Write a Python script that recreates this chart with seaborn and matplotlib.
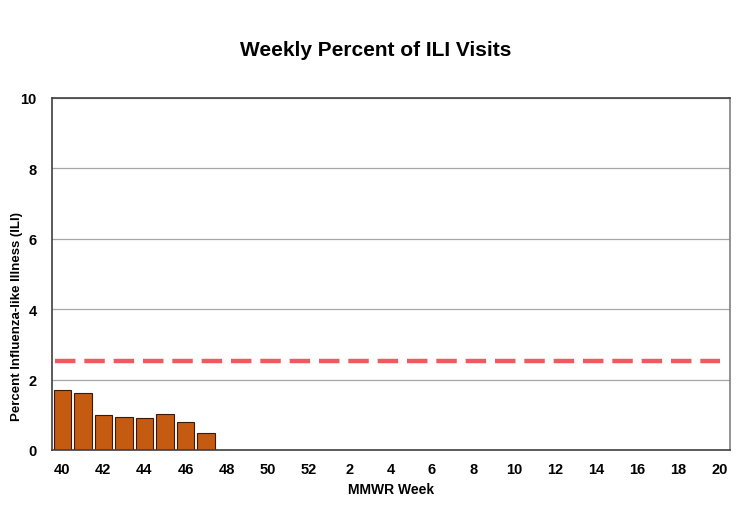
import numpy as np
import pandas as pd
import matplotlib
matplotlib.use('Agg')
import matplotlib.pyplot as plt
import seaborn as sns

# MMWR weeks for the season, 40 through 20
weeks = [str(w) for w in list(range(40, 53)) + list(range(1, 21))]
reported_weeks = ['40', '41', '42', '43', '44', '45', '46', '47']
ili_percent = [1.70, 1.61, 0.99, 0.93, 0.90, 1.02, 0.80, 0.49]
baseline = 2.52
y_ticks = [0, 2, 4, 6, 8, 10]

df = pd.DataFrame({'week': reported_weeks, 'ili': ili_percent})

sns.set_style('white')
plt.rcParams['font.family'] = ['Liberation Sans', 'DejaVu Sans']
plt.rcParams['text.color'] = 'black'
plt.rcParams['axes.labelcolor'] = 'black'
plt.rcParams['xtick.labelcolor'] = 'black'
plt.rcParams['ytick.labelcolor'] = 'black'

fig = plt.figure(figsize=(7.51, 5.06), dpi=100)
ax = fig.add_axes([0.0692, 0.1087, 0.9028, 0.6957])

sns.barplot(x='week', y='ili', data=df, order=weeks, color='#C55A11',
            edgecolor='#3a1a05', linewidth=0.8, width=0.85, saturation=1, ax=ax)

ax.axhline(baseline, xmin=0.004, xmax=0.986, color='#F05A5F', lw=3.2,
           dashes=(4.6, 2.0), zorder=3)

ax.set_ylim(0, 10)
ax.set_xlim(-0.5, len(weeks) - 0.5)
ax.set_yticks(y_ticks)
ax.yaxis.grid(True, color='#a6a6a6', lw=0.9)
ax.set_axisbelow(True)

# labels on every other week, tick marks on category boundaries
ax.set_xticks(range(0, len(weeks), 2))
ax.set_xticklabels(weeks[::2])
ax.set_xticks(np.arange(-0.5, len(weeks) - 1, 2), minor=True)
ax.tick_params(axis='x', which='major', length=0, pad=9)
ax.tick_params(axis='x', which='minor', length=5, width=1, color='#808080')
ax.tick_params(axis='y', length=4, width=1, color='#808080', pad=7)
for lab in ax.get_xticklabels() + ax.get_yticklabels():
    lab.set_fontweight('bold')
    lab.set_fontsize(10.5)

for side in ['left', 'bottom', 'top']:
    ax.spines[side].set_color('#404040')
    ax.spines[side].set_linewidth(1.2)
ax.spines['right'].set_color('#808080')
ax.spines['right'].set_linewidth(1.2)

ax.set_xlabel('MMWR Week', fontsize=10, fontweight='bold', labelpad=4)
ax.set_ylabel('Percent Influenza-like Illness (ILI)', fontsize=9.5,
              fontweight='bold')
ax.yaxis.set_label_coords(-0.043, 0.383)
fig.suptitle('Weekly Percent of ILI Visits', fontsize=15, fontweight='bold',
             y=0.918)

fig.savefig('out.png', dpi=100)
